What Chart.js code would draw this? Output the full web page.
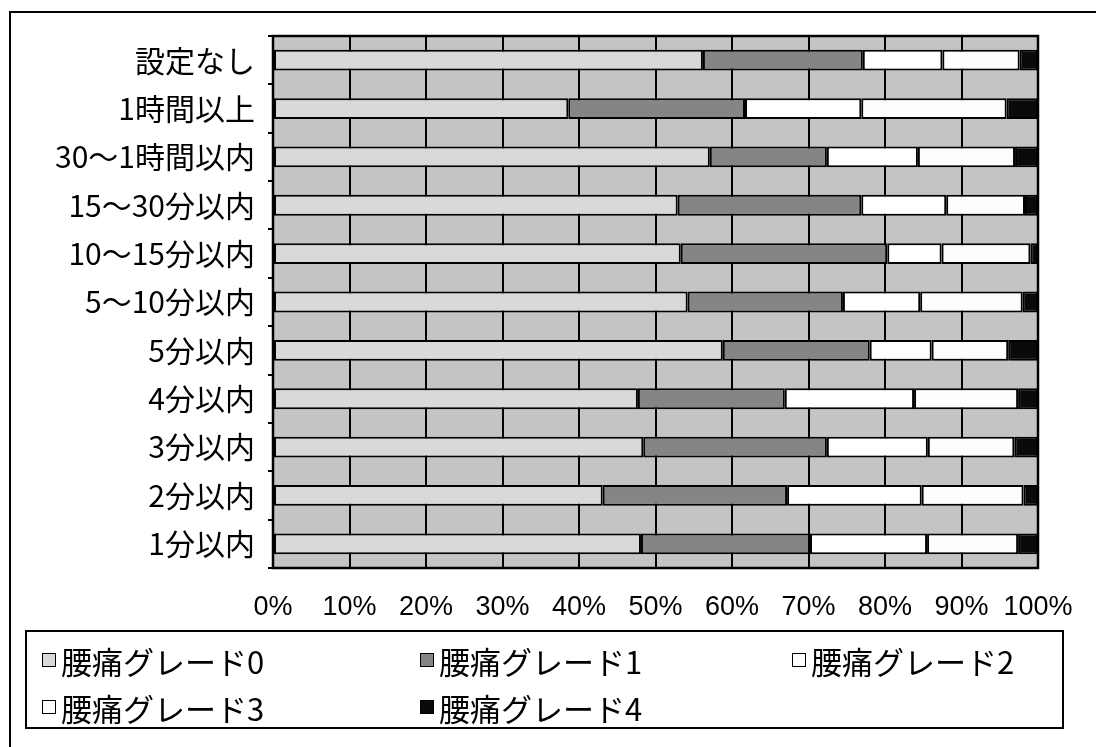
<!DOCTYPE html>
<html>
<head>
<meta charset="utf-8">
<script src="https://cdn.jsdelivr.net/npm/chart.js@4.4.1/dist/chart.umd.min.js"></script>
<style>
  html, body { margin: 0; padding: 0; background: #fff; overflow: hidden; }
  #wrap { position: relative; width: 1096px; height: 747px; overflow: hidden; }
  #frame { position: absolute; left: 9px; top: 11px; width: 1200px; height: 800px;
           border-left: 2px solid #000; border-top: 2px solid #000; }
  canvas { position: absolute; left: 0; top: 0; }
  #legend { position: absolute; left: 25px; top: 630px; width: 1035px; height: 95px;
            border: 2px solid #000; font-family: "Noto Sans CJK JP", sans-serif;
            font-size: 31px; color: #000; }
  .item { position: absolute; height: 40px; display: flex; align-items: center; white-space: nowrap; }
  .sw { width: 12px; height: 12px; border: 1.5px solid #000; margin-right: 5px; }
</style>
</head>
<body>
<div id="wrap">
  <div id="frame"></div>
  <canvas id="c" width="1096" height="747"></canvas>
  <div id="legend"></div>
</div>
<script>
// Allowed break length before the lumbar check (rows, top to bottom)
const categories = [
  '設定なし', '1時間以上', '30～1時間以内', '15～30分以内', '10～15分以内',
  '5～10分以内', '5分以内', '4分以内', '3分以内', '2分以内', '1分以内'
];

// Share of respondents per low-back-pain grade (%)
const grade0 = [56.2, 38.6, 57.1, 52.9, 53.3, 54.2, 58.8, 47.7, 48.4, 43.1, 48.1];
const grade1 = [20.9, 23.1, 15.3, 24.0, 27.0, 20.3, 19.2, 19.2, 24.0, 24.1, 22.1];
const grade2 = [10.4, 15.2, 11.9, 11.1,  7.1, 10.1,  8.1, 16.9, 13.2, 17.6, 15.3];
const grade3 = [10.1, 19.0, 12.7, 10.3, 11.6, 13.4, 10.0, 13.6, 11.3, 13.3, 11.9];
const grade4 = [ 2.4,  4.1,  3.0,  1.7,  1.0,  2.0,  3.9,  2.6,  3.1,  1.9,  2.6];

const seriesNames = ['腰痛グレード0', '腰痛グレード1', '腰痛グレード2', '腰痛グレード3', '腰痛グレード4'];
const seriesColors = ['#d9d9d9', '#858585', '#ffffff', '#fdfdfd', '#0a0a0a'];
const xTicks = [0, 10, 20, 30, 40, 50, 60, 70, 80, 90, 100];

const seriesValues = [grade0, grade1, grade2, grade3, grade4];

// Grey plot backdrop underneath the grid, and the plot frame on top
const plotBackdrop = {
  id: 'plotBackdrop',
  beforeDraw(chart) {
    const { ctx, chartArea: a } = chart;
    ctx.save();
    ctx.fillStyle = '#c4c4c4';
    ctx.fillRect(a.left, a.top, a.right - a.left, a.bottom - a.top);
    ctx.restore();
  },
  afterDraw(chart) {
    const { ctx, chartArea: a } = chart;
    ctx.save();
    ctx.strokeStyle = '#000';
    ctx.lineWidth = 2.5;
    ctx.strokeRect(a.left, a.top, a.right - a.left, a.bottom - a.top);
    ctx.restore();
  }
};

const chart = new Chart(document.getElementById('c'), {
  type: 'bar',
  data: {
    labels: categories,
    datasets: seriesNames.map((name, i) => ({
      label: name,
      data: seriesValues[i],
      backgroundColor: seriesColors[i],
      borderColor: '#000',
      borderWidth: 2,
      borderSkipped: false,
      barPercentage: 0.43,
      categoryPercentage: 1.0
    }))
  },
  options: {
    indexAxis: 'y',
    responsive: false,
    devicePixelRatio: 1,
    animation: false,
    layout: { padding: { top: 36, right: 58, left: 0, bottom: 0 } },
    plugins: {
      legend: { display: false },
      tooltip: { enabled: false }
    },
    scales: {
      x: {
        stacked: true,
        min: 0,
        max: 100,
        afterBuildTicks: s => { s.ticks = xTicks.map(v => ({ value: v })); },
        ticks: {
          callback: v => v + '%',
          color: '#000',
          font: { family: '"Liberation Sans", Arial, sans-serif', size: 27 },
          padding: 23,
          maxRotation: 0,
          autoSkip: false
        },
        grid: { color: '#000', lineWidth: 2, drawTicks: false },
        border: { display: false },
        afterFit: s => { s.height = 179; }
      },
      y: {
        stacked: true,
        ticks: {
          color: '#000',
          font: { family: '"Noto Sans CJK JP", sans-serif', size: 30 },
          padding: 13,
          autoSkip: false
        },
        grid: { drawOnChartArea: false, drawTicks: true, tickLength: 5, color: '#000', lineWidth: 2 },
        border: { display: false },
        afterFit: s => { s.width = 273; }
      }
    }
  },
  plugins: [plotBackdrop]
});

// Legend laid out in three columns, built from the chart's datasets
const legendEl = document.getElementById('legend');
const colX = [15, 393, 765];
const rowY = [8, 55];
chart.data.datasets.forEach((ds, i) => {
  const item = document.createElement('div');
  item.className = 'item';
  item.style.left = colX[i % 3] + 'px';
  item.style.top = rowY[Math.floor(i / 3)] + 'px';
  const sw = document.createElement('span');
  sw.className = 'sw';
  sw.style.background = ds.backgroundColor;
  const txt = document.createElement('span');
  txt.textContent = ds.label;
  item.appendChild(sw);
  item.appendChild(txt);
  legendEl.appendChild(item);
});
</script>
</body>
</html>
